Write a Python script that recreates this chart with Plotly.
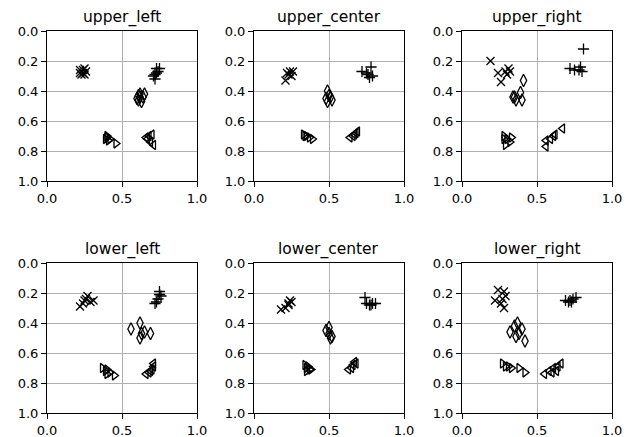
import plotly.graph_objects as go

titles = ["upper_left", "upper_center", "upper_right", "lower_left", "lower_center", "lower_right"]
x_tick_vals = [0.0, 0.5, 1.0]
x_tick_text = ["0.0", "0.5", "1.0"]
y_tick_vals = [0.0, 0.2, 0.4, 0.6, 0.8, 1.0]
y_tick_text = ["0.0", "0.2", "0.4", "0.6", "0.8", "1.0"]

# upper_left
ul_xm_x = [0.22, 0.24, 0.25, 0.23, 0.26, 0.24, 0.22, 0.25]
ul_xm_y = [0.26, 0.28, 0.25, 0.29, 0.27, 0.26, 0.28, 0.29]
ul_pl_x = [0.73, 0.74, 0.72, 0.71, 0.72, 0.73, 0.75]
ul_pl_y = [0.25, 0.27, 0.29, 0.30, 0.32, 0.28, 0.25]
ul_di_x = [0.62, 0.64, 0.61, 0.60, 0.63, 0.62, 0.65, 0.61]
ul_di_y = [0.42, 0.44, 0.46, 0.45, 0.47, 0.44, 0.42, 0.43]
ul_tr_x = [0.40, 0.39, 0.41, 0.42, 0.46, 0.40]
ul_tr_y = [0.70, 0.72, 0.73, 0.72, 0.75, 0.71]
ul_tl_x = [0.68, 0.67, 0.70, 0.69, 0.71, 0.66]
ul_tl_y = [0.70, 0.72, 0.69, 0.74, 0.76, 0.71]

# upper_center
uc_xm_x = [0.22, 0.24, 0.25, 0.21, 0.26, 0.23]
uc_xm_y = [0.28, 0.27, 0.30, 0.33, 0.27, 0.29]
uc_pl_x = [0.72, 0.78, 0.76, 0.77, 0.79, 0.75]
uc_pl_y = [0.27, 0.24, 0.29, 0.31, 0.30, 0.28]
uc_di_x = [0.49, 0.51, 0.49, 0.52, 0.50, 0.48]
uc_di_y = [0.40, 0.44, 0.47, 0.46, 0.43, 0.45]
uc_tr_x = [0.33, 0.35, 0.37, 0.39, 0.34]
uc_tr_y = [0.69, 0.70, 0.71, 0.72, 0.70]
uc_tl_x = [0.66, 0.68, 0.64, 0.67, 0.69]
uc_tl_y = [0.70, 0.68, 0.71, 0.69, 0.67]

# upper_right
ur_xm_x = [0.19, 0.24, 0.26, 0.29, 0.31, 0.30, 0.32]
ur_xm_y = [0.20, 0.28, 0.34, 0.27, 0.25, 0.29, 0.27]
ur_pl_x = [0.81, 0.72, 0.75, 0.79, 0.80, 0.78]
ur_pl_y = [0.12, 0.25, 0.26, 0.24, 0.27, 0.26]
ur_di_x = [0.41, 0.34, 0.36, 0.40, 0.39, 0.35]
ur_di_y = [0.33, 0.44, 0.46, 0.46, 0.41, 0.44]
ur_tr_x = [0.28, 0.30, 0.32, 0.29, 0.33, 0.28]
ur_tr_y = [0.70, 0.72, 0.74, 0.76, 0.71, 0.72]
ur_tl_x = [0.67, 0.61, 0.56, 0.56, 0.59, 0.62]
ur_tl_y = [0.65, 0.70, 0.73, 0.77, 0.72, 0.69]

# lower_left
ll_xm_x = [0.22, 0.25, 0.27, 0.29, 0.24, 0.26, 0.31]
ll_xm_y = [0.29, 0.25, 0.22, 0.26, 0.27, 0.24, 0.25]
ll_pl_x = [0.75, 0.76, 0.74, 0.73, 0.72, 0.75]
ll_pl_y = [0.19, 0.22, 0.24, 0.26, 0.27, 0.21]
ll_di_x = [0.56, 0.62, 0.62, 0.65, 0.69, 0.63]
ll_di_y = [0.44, 0.40, 0.50, 0.46, 0.47, 0.47]
ll_tr_x = [0.37, 0.39, 0.40, 0.42, 0.45, 0.40]
ll_tr_y = [0.70, 0.72, 0.74, 0.73, 0.75, 0.71]
ll_tl_x = [0.71, 0.70, 0.68, 0.66, 0.71, 0.69]
ll_tl_y = [0.69, 0.71, 0.73, 0.74, 0.67, 0.72]

# lower_center
lc_xm_x = [0.18, 0.21, 0.23, 0.24, 0.25, 0.23]
lc_xm_y = [0.31, 0.30, 0.28, 0.25, 0.26, 0.27]
lc_pl_x = [0.74, 0.75, 0.77, 0.79, 0.81, 0.78]
lc_pl_y = [0.23, 0.27, 0.28, 0.27, 0.27, 0.28]
lc_di_x = [0.48, 0.50, 0.51, 0.50, 0.52]
lc_di_y = [0.45, 0.47, 0.50, 0.43, 0.49]
lc_tr_x = [0.34, 0.35, 0.37, 0.38, 0.36, 0.35]
lc_tr_y = [0.68, 0.70, 0.71, 0.71, 0.69, 0.72]
lc_tl_x = [0.66, 0.67, 0.65, 0.63, 0.68]
lc_tl_y = [0.68, 0.66, 0.70, 0.71, 0.67]

# lower_right
lr_xm_x = [0.24, 0.28, 0.22, 0.26, 0.27, 0.28, 0.29]
lr_xm_y = [0.18, 0.19, 0.25, 0.27, 0.24, 0.30, 0.22]
lr_pl_x = [0.69, 0.72, 0.74, 0.73, 0.76, 0.71]
lr_pl_y = [0.25, 0.25, 0.24, 0.26, 0.23, 0.26]
lr_di_x = [0.32, 0.35, 0.37, 0.36, 0.40, 0.42, 0.38]
lr_di_y = [0.46, 0.42, 0.40, 0.49, 0.44, 0.52, 0.47]
lr_tr_x = [0.27, 0.29, 0.31, 0.33, 0.38, 0.42]
lr_tr_y = [0.67, 0.69, 0.69, 0.70, 0.70, 0.73]
lr_tl_x = [0.55, 0.58, 0.61, 0.64, 0.66, 0.63, 0.60]
lr_tl_y = [0.74, 0.72, 0.70, 0.69, 0.67, 0.72, 0.73]

panels = [
    [(ul_xm_x, ul_xm_y), (ul_pl_x, ul_pl_y), (ul_di_x, ul_di_y), (ul_tr_x, ul_tr_y), (ul_tl_x, ul_tl_y)],
    [(uc_xm_x, uc_xm_y), (uc_pl_x, uc_pl_y), (uc_di_x, uc_di_y), (uc_tr_x, uc_tr_y), (uc_tl_x, uc_tl_y)],
    [(ur_xm_x, ur_xm_y), (ur_pl_x, ur_pl_y), (ur_di_x, ur_di_y), (ur_tr_x, ur_tr_y), (ur_tl_x, ur_tl_y)],
    [(ll_xm_x, ll_xm_y), (ll_pl_x, ll_pl_y), (ll_di_x, ll_di_y), (ll_tr_x, ll_tr_y), (ll_tl_x, ll_tl_y)],
    [(lc_xm_x, lc_xm_y), (lc_pl_x, lc_pl_y), (lc_di_x, lc_di_y), (lc_tr_x, lc_tr_y), (lc_tl_x, lc_tl_y)],
    [(lr_xm_x, lr_xm_y), (lr_pl_x, lr_pl_y), (lr_di_x, lr_di_y), (lr_tr_x, lr_tr_y), (lr_tl_x, lr_tl_y)],
]
symbols = ["x-thin-open", "cross-thin-open", "diamond-tall-open", "triangle-right-open", "triangle-left-open"]
sizes = [8, 8, 9, 8, 8]

# page body adds an 8px offset; the figure is sized so it fits the window
OFF = 8
W, H = 630 - OFF, 437 - OFF
x_doms = [(47, 197), (254, 404), (462, 612)]
y_doms = [(31, 181), (263, 413)]

fig = go.Figure()
annotations = []
for i, panel in enumerate(panels):
    r, c = divmod(i, 3)
    ax = "" if i == 0 else str(i + 1)
    xd = [(x_doms[c][0] - OFF) / W, (x_doms[c][1] - OFF) / W]
    yd = [1 - (y_doms[r][1] - OFF) / H, 1 - (y_doms[r][0] - OFF) / H]
    for (xs, ys), sym, sz in zip(panel, symbols, sizes):
        fig.add_trace(go.Scatter(
            x=xs, y=ys, mode="markers", xaxis="x" + ax, yaxis="y" + ax,
            marker=dict(symbol=sym, size=sz, color="black",
                        line=dict(color="black", width=1.3)),
            showlegend=False, hoverinfo="skip"))
    common = dict(showline=True, linecolor="black", linewidth=1, mirror=True,
                  ticks="outside", ticklen=5, tickwidth=1, tickcolor="black",
                  showgrid=True, gridcolor="#b0b0b0", gridwidth=1, zeroline=False,
                  automargin=False,
                  tickfont=dict(family="DejaVu Sans", size=13, color="black"))
    fig.update_layout(**{
        "xaxis" + ax: dict(domain=xd, range=[0, 1], tickvals=x_tick_vals, ticktext=x_tick_text,
                           anchor="y" + ax, **common),
        "yaxis" + ax: dict(domain=yd, range=[1, 0], tickvals=y_tick_vals, ticktext=y_tick_text,
                           anchor="x" + ax, **common),
    })
    annotations.append(dict(text=titles[i], xref="paper", yref="paper",
                            x=(xd[0] + xd[1]) / 2, y=yd[1], yshift=3, borderpad=0,
                            xanchor="center", yanchor="bottom", showarrow=False,
                            font=dict(family="DejaVu Sans", size=15.5, color="black")))

fig.update_layout(width=W, height=H, margin=dict(l=0, r=0, t=0, b=0),
                  paper_bgcolor="white", plot_bgcolor="white", annotations=annotations)
fig.write_html("out.html")
